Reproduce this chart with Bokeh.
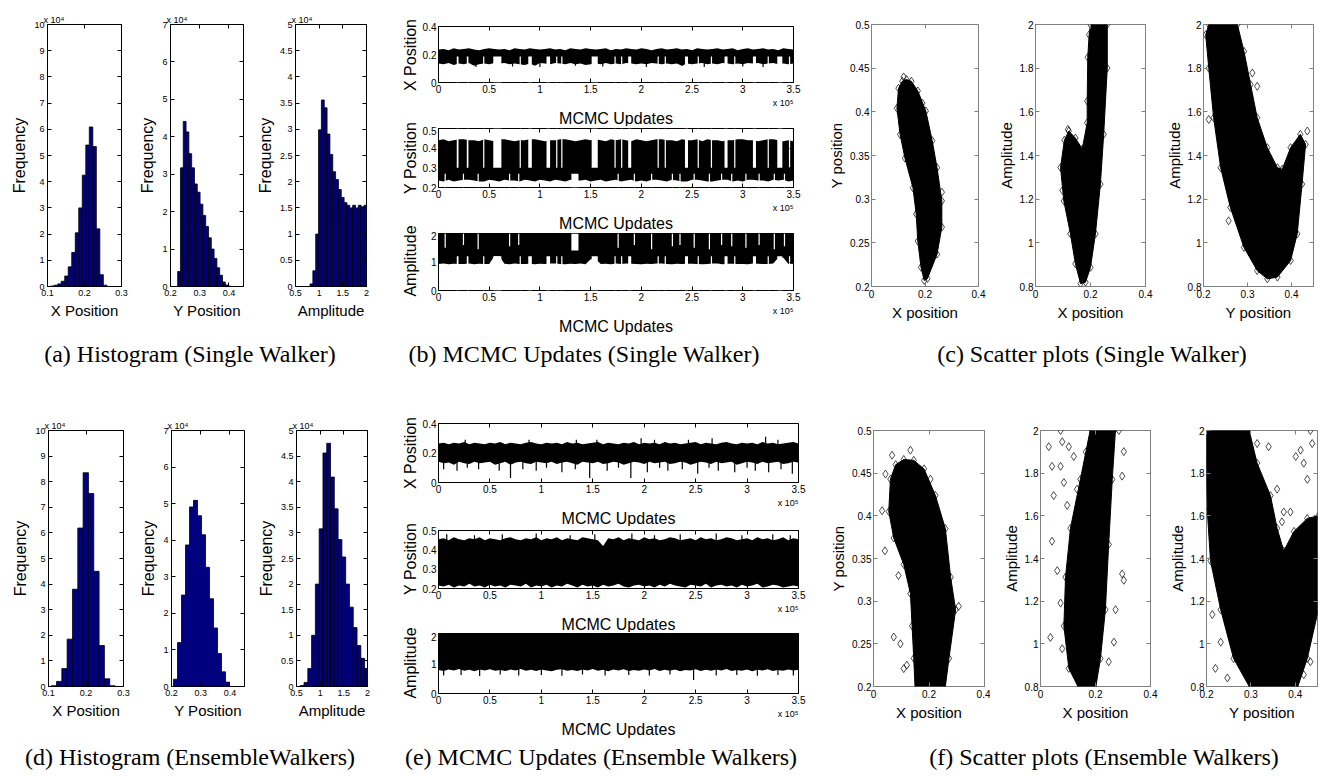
import numpy as np
from bokeh.plotting import figure
from bokeh.models import FixedTicker, LinearAxis, Div, CustomJSTickFormatter, Title
from bokeh.layouts import row, column
from bokeh.embed import file_html
from bokeh.resources import INLINE

SANS = "Liberation Sans"
SERIF = "Liberation Serif"
BAR = "#000080"
GRAY = "#808080"

# ======================= DATA =======================
# ---- (a) histograms, single walker (frequency in units of 1e4) ----
a_xpos_edges = [0.1085, 0.118, 0.1275, 0.137, 0.1465, 0.156, 0.1655, 0.175, 0.1845, 0.194,
                0.2035, 0.213, 0.2225, 0.232, 0.2415, 0.251, 0.2605]
a_xpos_counts = [0.02, 0.05, 0.1, 0.2, 0.4, 0.75, 1.3, 2.05, 3.0, 4.25, 5.4, 6.09, 5.34, 2.2, 0.45, 0.05]
a_ypos_edges = [0.2245, 0.2341, 0.2437, 0.2533, 0.2629, 0.2725, 0.2821, 0.2917, 0.3013, 0.3109,
                0.3205, 0.3301, 0.3397, 0.3493, 0.3589, 0.3685, 0.3781, 0.3877, 0.3973, 0.4069]
a_ypos_counts = [0.4, 3.17, 4.41, 4.13, 3.55, 3.17, 2.74, 2.52, 2.2, 1.9, 1.6, 1.3, 1.0, 0.75,
                 0.5, 0.3, 0.12, 0.04, 0.01]
a_amp_edges = [0.807, 0.867, 0.927, 0.987, 1.047, 1.107, 1.167, 1.227, 1.287, 1.347, 1.407,
               1.467, 1.527, 1.587, 1.647, 1.707, 1.767, 1.827, 1.887, 1.947, 2.007]
a_amp_counts = [0.05, 0.3, 1.0, 2.99, 3.56, 3.41, 2.91, 2.52, 2.19, 2.04, 1.85, 1.7, 1.6, 1.55,
                1.5, 1.55, 1.5, 1.55, 1.52, 1.55]

# ---- (d) histograms, ensemble walkers ----
d_xpos_edges = [0.1071, 0.1213, 0.1355, 0.1497, 0.1639, 0.1781, 0.1923, 0.2065, 0.2207, 0.2349,
                0.2491, 0.2633, 0.2775]
d_xpos_counts = [0.03, 0.2, 0.7, 1.85, 3.8, 6.19, 8.35, 7.54, 4.5, 1.6, 0.3, 0.03]
d_ypos_edges = [0.2069, 0.2206, 0.2343, 0.248, 0.2617, 0.2754, 0.2891, 0.3028, 0.3165, 0.3302,
                0.3439, 0.3576, 0.3713, 0.385, 0.3987]
d_ypos_counts = [0.2, 1.2, 2.5, 3.87, 4.91, 5.09, 4.67, 4.15, 3.26, 2.4, 1.6, 0.9, 0.4, 0.12]
d_amp_edges = [0.579, 0.659, 0.739, 0.819, 0.899, 0.979, 1.059, 1.139, 1.219, 1.299, 1.379,
               1.459, 1.539, 1.619, 1.699, 1.779, 1.859, 1.939, 2.019]
d_amp_counts = [0.02, 0.08, 0.35, 1.0, 2.0, 3.08, 4.56, 4.75, 4.09, 3.47, 2.87, 2.53, 2.0, 1.55,
                1.15, 0.8, 0.55, 0.35]

# ---- MCMC traces: envelope of the chain, sampled every 5000 updates (x in 1e5) ----
trace_x = [0.0, 0.05, 0.1, 0.15, 0.2, 0.25, 0.3, 0.35, 0.4, 0.45,
           0.5, 0.55, 0.6, 0.65, 0.7, 0.75, 0.8, 0.85, 0.9, 0.95,
           1.0, 1.05, 1.1, 1.15, 1.2, 1.25, 1.3, 1.35, 1.4, 1.45,
           1.5, 1.55, 1.6, 1.65, 1.7, 1.75, 1.8, 1.85, 1.9, 1.95,
           2.0, 2.05, 2.1, 2.15, 2.2, 2.25, 2.3, 2.35, 2.4, 2.45,
           2.5, 2.55, 2.6, 2.65, 2.7, 2.75, 2.8, 2.85, 2.9, 2.95,
           3.0, 3.05, 3.1, 3.15, 3.2, 3.25, 3.3, 3.35, 3.4, 3.45, 3.5]

# (b) single walker
b_x_lo = [0.135, 0.13, 0.14, 0.125, 0.135, 0.13, 0.14, 0.12, 0.13, 0.135,
          0.13, 0.14, 0.135, 0.14, 0.13, 0.135, 0.13, 0.125, 0.135, 0.12,
          0.14, 0.135, 0.13, 0.14, 0.135, 0.13, 0.14, 0.13, 0.135, 0.125,
          0.13, 0.135, 0.13, 0.14, 0.13, 0.135, 0.13, 0.14, 0.135, 0.13,
          0.135, 0.13, 0.14, 0.135, 0.13, 0.135, 0.13, 0.135, 0.12, 0.135,
          0.13, 0.135, 0.14, 0.13, 0.135, 0.13, 0.14, 0.135, 0.13, 0.135,
          0.13, 0.14, 0.135, 0.14, 0.13, 0.135, 0.14, 0.13, 0.135, 0.13, 0.135]
b_x_hi = [0.235, 0.24, 0.23, 0.245, 0.235, 0.24, 0.245, 0.235, 0.23, 0.24,
          0.245, 0.24, 0.235, 0.24, 0.23, 0.245, 0.24, 0.235, 0.245, 0.24,
          0.235, 0.24, 0.245, 0.235, 0.24, 0.23, 0.245, 0.24, 0.235, 0.245,
          0.24, 0.235, 0.24, 0.245, 0.23, 0.24, 0.235, 0.245, 0.24, 0.235,
          0.245, 0.24, 0.23, 0.24, 0.245, 0.235, 0.24, 0.245, 0.235, 0.24,
          0.23, 0.245, 0.24, 0.235, 0.24, 0.245, 0.235, 0.24, 0.245, 0.23,
          0.24, 0.245, 0.235, 0.24, 0.245, 0.235, 0.24, 0.23, 0.245, 0.24, 0.235]
b_x_spike_x = [0.37, 0.73, 1.00, 1.35, 1.62, 2.05, 2.40, 2.62, 3.00, 3.20]
b_x_spike_y = [0.11, 0.115, 0.11, 0.12, 0.115, 0.11, 0.12, 0.11, 0.115, 0.11]
b_y_lo = [0.235, 0.23, 0.24, 0.23, 0.235, 0.24, 0.24, 0.235, 0.23, 0.23,
          0.24, 0.235, 0.23, 0.24, 0.235, 0.235, 0.23, 0.24, 0.235, 0.23,
          0.24, 0.235, 0.23, 0.24, 0.235, 0.23, 0.24, 0.235, 0.235, 0.24,
          0.23, 0.235, 0.24, 0.23, 0.235, 0.24, 0.23, 0.235, 0.24, 0.23,
          0.235, 0.23, 0.24, 0.24, 0.235, 0.23, 0.24, 0.235, 0.23, 0.23,
          0.24, 0.24, 0.235, 0.23, 0.23, 0.235, 0.24, 0.24, 0.23, 0.235,
          0.23, 0.24, 0.24, 0.235, 0.235, 0.23, 0.24, 0.235, 0.24, 0.23, 0.235]
b_y_hi = [0.44, 0.445, 0.435, 0.44, 0.445, 0.445, 0.44, 0.44, 0.435, 0.445,
          0.44, 0.435, 0.445, 0.445, 0.44, 0.435, 0.44, 0.44, 0.445, 0.445,
          0.44, 0.435, 0.44, 0.44, 0.445, 0.445, 0.44, 0.435, 0.44, 0.445,
          0.44, 0.445, 0.44, 0.435, 0.445, 0.44, 0.445, 0.44, 0.435, 0.445,
          0.44, 0.435, 0.44, 0.445, 0.445, 0.44, 0.44, 0.435, 0.445, 0.44,
          0.44, 0.445, 0.435, 0.445, 0.44, 0.44, 0.435, 0.44, 0.44, 0.445,
          0.445, 0.44, 0.44, 0.435, 0.44, 0.445, 0.445, 0.44, 0.435, 0.44, 0.435]
b_a_lo = [0.93, 0.95, 0.92, 0.94, 0.93, 0.93, 0.95, 0.92, 0.94, 0.93,
          0.93, 1.2, 1.2, 0.94, 0.92, 0.95, 0.93, 0.93, 0.94, 0.92,
          0.94, 0.93, 0.95, 0.95, 0.93, 0.92, 0.94, 0.93, 0.95, 0.92,
          1.1, 1.1, 0.93, 0.94, 0.92, 0.95, 0.93, 0.95, 0.94, 0.93,
          0.92, 0.94, 0.93, 0.95, 0.95, 0.93, 0.92, 0.94, 0.93, 0.94,
          0.94, 0.93, 0.92, 0.93, 0.95, 0.95, 0.92, 0.94, 0.94, 0.93,
          0.93, 0.92, 0.95, 0.94, 0.93, 0.93, 0.95, 1.15, 1.15, 0.93, 0.94]
b_a_hi = [2.0, 2.0, 2.0, 2.0, 2.0, 2.0, 2.0, 2.0, 2.0, 2.0,
          2.0, 2.0, 2.0, 2.0, 2.0, 2.0, 2.0, 2.0, 2.0, 2.0,
          2.0, 2.0, 2.0, 2.0, 2.0, 2.0, 2.0, 2.0, 2.0, 2.0,
          2.0, 2.0, 2.0, 2.0, 2.0, 2.0, 2.0, 2.0, 2.0, 2.0,
          2.0, 2.0, 2.0, 2.0, 2.0, 2.0, 2.0, 2.0, 2.0, 2.0,
          2.0, 2.0, 2.0, 2.0, 2.0, 2.0, 2.0, 2.0, 2.0, 2.0,
          2.0, 2.0, 2.0, 2.0, 2.0, 2.0, 2.0, 2.0, 2.0, 2.0, 2.0]
# stretches where the single walker stays in the high-x / low-y / high-amplitude mode
b_hi_mode_x0 = [0.18, 0.279, 0.44, 0.54, 0.80, 0.885, 1.065, 1.16, 1.21, 1.51, 1.735, 1.80,
                1.87, 2.16, 2.23, 2.43, 2.555, 2.685, 2.82, 2.915, 3.10, 3.245, 3.34, 3.455]
b_hi_mode_x1 = [0.197, 0.295, 0.452, 0.62, 0.812, 0.92, 1.10, 1.172, 1.222, 1.57, 1.747, 1.812,
                1.90, 2.172, 2.242, 2.46, 2.567, 2.697, 2.85, 2.927, 3.13, 3.257, 3.39, 3.467]
b_hi_mode_xmin = 0.185   # lowest x position reached in that mode
b_hi_mode_ymax = 0.30    # highest y position reached in that mode
b_hi_mode_amin = 1.2     # lowest amplitude reached in that mode
# stretches where the single walker stays in the low-amplitude / high-y mode
b_lo_mode_x0 = [0.06, 0.24, 0.385, 0.695, 0.785, 1.31, 1.765, 1.925, 2.095, 2.30, 2.375, 2.515,
                2.665, 2.785, 2.885, 3.025, 3.155, 3.305, 3.405]
b_lo_mode_x1 = [0.072, 0.252, 0.397, 0.707, 0.797, 1.38, 1.777, 1.937, 2.107, 2.312, 2.387,
                2.527, 2.677, 2.797, 2.897, 3.037, 3.167, 3.317, 3.417]
b_lo_mode_amax = [1.5, 1.6, 1.45, 1.55, 1.6, 1.4, 1.5, 1.6, 1.45, 1.55, 1.6, 1.5, 1.45, 1.6,
                  1.55, 1.5, 1.6, 1.45, 1.55]
b_lo_mode_ymin = 0.27

# (e) ensemble walkers
e_x_lo = [0.14, 0.13, 0.135, 0.12, 0.14, 0.13, 0.125, 0.14, 0.13, 0.135,
          0.14, 0.12, 0.13, 0.14, 0.12, 0.135, 0.14, 0.13, 0.125, 0.14,
          0.135, 0.13, 0.14, 0.125, 0.135, 0.14, 0.13, 0.12, 0.14, 0.135,
          0.13, 0.14, 0.125, 0.13, 0.14, 0.135, 0.12, 0.13, 0.14, 0.135,
          0.125, 0.14, 0.13, 0.135, 0.14, 0.125, 0.13, 0.14, 0.135, 0.12,
          0.13, 0.14, 0.135, 0.125, 0.14, 0.13, 0.135, 0.14, 0.12, 0.13,
          0.14, 0.135, 0.125, 0.14, 0.13, 0.135, 0.14, 0.125, 0.13, 0.14, 0.135]
e_x_hi = [0.265, 0.27, 0.26, 0.27, 0.265, 0.275, 0.26, 0.27, 0.265, 0.26,
          0.27, 0.265, 0.275, 0.26, 0.27, 0.265, 0.26, 0.27, 0.275, 0.265,
          0.26, 0.27, 0.265, 0.27, 0.26, 0.275, 0.265, 0.27, 0.26, 0.265,
          0.27, 0.275, 0.26, 0.27, 0.265, 0.26, 0.27, 0.265, 0.275, 0.26,
          0.27, 0.265, 0.27, 0.26, 0.275, 0.265, 0.27, 0.26, 0.265, 0.27,
          0.275, 0.26, 0.27, 0.265, 0.26, 0.27, 0.275, 0.265, 0.26, 0.27,
          0.265, 0.27, 0.26, 0.275, 0.265, 0.27, 0.26, 0.265, 0.27, 0.275, 0.265]
e_x_dn_x = [0.05, 0.18, 0.28, 0.39, 0.59, 0.70, 0.82, 0.95, 1.05, 1.20, 1.33, 1.47, 1.64, 1.75,
            1.87, 2.03, 2.15, 2.23, 2.37, 2.52, 2.63, 2.72, 2.88, 3.00, 3.08, 3.21, 3.33, 3.44]
e_x_dn_y = [0.09, 0.08, 0.10, 0.09, 0.08, 0.03, 0.09, 0.08, 0.10, 0.07, 0.09, 0.03, 0.08, 0.10,
            0.03, 0.07, 0.10, 0.08, 0.09, 0.06, 0.10, 0.08, 0.07, 0.10, 0.08, 0.07, 0.09, 0.06]
e_x_up_x = [0.26, 0.88, 1.34, 1.54, 1.97, 2.10, 2.43, 2.66, 3.18, 3.30]
e_x_up_y = [0.29, 0.29, 0.29, 0.29, 0.30, 0.29, 0.29, 0.30, 0.31, 0.29]
e_y_lo = [0.215, 0.21, 0.22, 0.205, 0.215, 0.21, 0.225, 0.21, 0.215, 0.205,
          0.22, 0.21, 0.215, 0.205, 0.22, 0.215, 0.21, 0.225, 0.205, 0.215,
          0.21, 0.22, 0.205, 0.215, 0.21, 0.225, 0.215, 0.205, 0.22, 0.21,
          0.215, 0.205, 0.22, 0.21, 0.215, 0.225, 0.21, 0.205, 0.215, 0.22,
          0.21, 0.215, 0.205, 0.22, 0.21, 0.225, 0.215, 0.21, 0.205, 0.22,
          0.215, 0.21, 0.225, 0.205, 0.215, 0.22, 0.21, 0.215, 0.205, 0.22,
          0.21, 0.215, 0.225, 0.205, 0.21, 0.22, 0.215, 0.205, 0.21, 0.215, 0.21]
e_y_hi = [0.455, 0.46, 0.45, 0.465, 0.455, 0.45, 0.46, 0.455, 0.465, 0.45,
          0.46, 0.455, 0.45, 0.46, 0.465, 0.455, 0.45, 0.46, 0.455, 0.465,
          0.45, 0.46, 0.455, 0.465, 0.45, 0.46, 0.455, 0.45, 0.465, 0.46,
          0.455, 0.45, 0.42, 0.46, 0.455, 0.465, 0.45, 0.46, 0.455, 0.45,
          0.465, 0.455, 0.46, 0.45, 0.455, 0.465, 0.46, 0.45, 0.455, 0.46,
          0.45, 0.465, 0.455, 0.46, 0.45, 0.455, 0.465, 0.46, 0.45, 0.455,
          0.46, 0.45, 0.465, 0.455, 0.46, 0.45, 0.455, 0.465, 0.45, 0.46, 0.455]
e_y_up_x = [0.08, 0.35, 0.62, 0.95, 1.28, 1.52, 1.88, 2.10, 2.35, 2.70, 2.95, 3.25, 3.42]
e_y_up_y = [0.48, 0.475, 0.48, 0.485, 0.475, 0.48, 0.485, 0.475, 0.48, 0.485, 0.475, 0.48, 0.475]
e_a_lo = [0.78, 0.75, 0.8, 0.77, 0.82, 0.76, 0.79, 0.74, 0.8, 0.77,
          0.81, 0.76, 0.78, 0.75, 0.8, 0.77, 0.82, 0.76, 0.79, 0.75,
          0.8, 0.77, 0.74, 0.79, 0.81, 0.76, 0.78, 0.75, 0.8, 0.77,
          0.82, 0.76, 0.79, 0.74, 0.8, 0.77, 0.81, 0.75, 0.78, 0.76,
          0.8, 0.77, 0.82, 0.75, 0.79, 0.76, 0.8, 0.74, 0.78, 0.77,
          0.81, 0.75, 0.79, 0.76, 0.8, 0.77, 0.82, 0.75, 0.78, 0.76,
          0.8, 0.74, 0.79, 0.77, 0.81, 0.75, 0.78, 0.76, 0.8, 0.77, 0.79]
e_a_hi = b_a_hi
e_a_dn_x = [0.05, 0.22, 0.40, 0.60, 0.78, 1.00, 1.20, 1.40, 1.62, 1.85, 2.05, 2.25, 2.48, 2.70,
            2.90, 3.10, 3.30, 3.45]
e_a_dn_y = [0.60, 0.62, 0.58, 0.63, 0.60, 0.62, 0.59, 0.63, 0.60, 0.62, 0.60, 0.63, 0.45, 0.60,
            0.62, 0.59, 0.62, 0.60]

# ---- scatter clouds: outline of the dense region + isolated samples ----
c1_x = [0.131, 0.149, 0.173, 0.203, 0.227, 0.245, 0.263, 0.263, 0.245, 0.209, 0.197, 0.185,
        0.173, 0.167, 0.155, 0.125, 0.107, 0.095, 0.101, 0.115]
c1_y = [0.437, 0.435, 0.424, 0.401, 0.367, 0.336, 0.298, 0.268, 0.237, 0.209, 0.207, 0.222,
        0.252, 0.283, 0.313, 0.347, 0.374, 0.404, 0.427, 0.435]
c1_out_x = [0.263, 0.12, 0.19]
c1_out_y = [0.308, 0.44, 0.41]
c2_x = [0.2, 0.261, 0.261, 0.248, 0.236, 0.218, 0.2, 0.182, 0.164, 0.145, 0.127, 0.103, 0.091,
        0.105, 0.121, 0.145, 0.17, 0.188, 0.188, 0.19, 0.195]
c2_y = [2.0, 2.0, 1.80, 1.497, 1.269, 1.041, 0.888, 0.82, 0.813, 0.904, 1.042, 1.192, 1.345,
        1.47, 1.512, 1.48, 1.43, 1.55, 1.649, 1.85, 1.953]
c2_out_x = [0.248, 0.118, 0.098]
c2_out_y = [1.778, 1.52, 1.24]
c3_x = [0.212, 0.277, 0.292, 0.307, 0.322, 0.345, 0.368, 0.379, 0.398, 0.420, 0.432, 0.424,
        0.413, 0.398, 0.368, 0.345, 0.322, 0.292, 0.261, 0.239, 0.223, 0.212, 0.205]
c3_y = [2.0, 2.0, 1.877, 1.725, 1.573, 1.436, 1.344, 1.337, 1.436, 1.497, 1.451, 1.269, 1.041,
        0.919, 0.843, 0.835, 0.873, 0.979, 1.162, 1.344, 1.573, 1.80, 1.953]
c3_out_x = [0.322, 0.311, 0.436, 0.212, 0.257, 0.345]
c3_out_y = [1.717, 1.778, 1.512, 1.565, 1.101, 1.39]

f1_x = [0.109, 0.145, 0.182, 0.223, 0.259, 0.278, 0.296, 0.272, 0.255, 0.151, 0.145, 0.139,
        0.133, 0.109, 0.073, 0.055, 0.061, 0.08]
f1_y = [0.466, 0.465, 0.455, 0.424, 0.385, 0.328, 0.290, 0.233, 0.19, 0.19, 0.233, 0.271,
        0.309, 0.343, 0.374, 0.405, 0.443, 0.46]
f1_out_x = [0.133, 0.067, 0.043, 0.041, 0.073, 0.097, 0.109, 0.031, 0.205, 0.307, 0.09, 0.12]
f1_out_y = [0.477, 0.471, 0.449, 0.359, 0.258, 0.250, 0.221, 0.406, 0.443, 0.294, 0.33, 0.225]
f2_x = [0.182, 0.273, 0.261, 0.248, 0.236, 0.218, 0.2, 0.14, 0.103, 0.085, 0.091, 0.109,
        0.145, 0.165]
f2_y = [2.01, 2.01, 1.771, 1.466, 1.16, 0.931, 0.79, 0.79, 0.885, 1.084, 1.313, 1.542, 1.771, 1.9]
f2_out_x = [0.030, 0.073, 0.079, 0.103, 0.042, 0.073, 0.121, 0.085, 0.048, 0.097, 0.042, 0.061,
            0.073, 0.036, 0.079, 0.097, 0.121, 0.133, 0.303, 0.297, 0.297, 0.303, 0.267, 0.273,
            0.248, 0.285]
f2_out_y = [1.924, 2.0, 1.947, 1.924, 1.832, 1.832, 1.878, 1.756, 1.695, 1.649, 1.481, 1.343,
            1.191, 1.030, 0.977, 1.099, 1.466, 1.725, 1.901, 1.786, 1.328, 1.298, 1.008, 1.16,
            0.916, 2.0]
f3_x = [0.2, 0.295, 0.314, 0.344, 0.359, 0.374, 0.397, 0.427, 0.452, 0.452, 0.427, 0.404,
        0.299, 0.261, 0.232, 0.209, 0.202, 0.199]
f3_y = [2.01, 2.01, 1.847, 1.695, 1.542, 1.435, 1.527, 1.588, 1.6, 1.16, 0.931, 0.79, 0.79,
        0.931, 1.16, 1.389, 1.618, 1.847]
f3_out_x = [0.434, 0.412, 0.401, 0.427, 0.389, 0.359, 0.340, 0.314, 0.374, 0.370, 0.419, 0.438,
            0.213, 0.220, 0.247, 0.232, 0.434, 0.419]
f3_out_y = [2.0, 1.908, 1.878, 1.771, 1.618, 1.725, 1.924, 1.939, 1.618, 1.572, 1.847, 1.939,
            1.137, 0.885, 0.840, 1.008, 0.916, 0.855]

# ---- tick positions ----
upd_ticks = [0, 0.5, 1, 1.5, 2, 2.5, 3, 3.5]
ticks10 = [0, 1, 2, 3, 4, 5, 6, 7, 8, 9, 10]
ticks7 = [0, 1, 2, 3, 4, 5, 6, 7]
ticks5 = [0, 0.5, 1, 1.5, 2, 2.5, 3, 3.5, 4, 4.5, 5]
yp_ticks = [0.2, 0.25, 0.3, 0.35, 0.4, 0.45, 0.5]
amp_ticks = [0.8, 1, 1.2, 1.4, 1.6, 1.8, 2]


# ======================= HELPERS =======================
def style_axis(ax, ticks, color, fs, hidden=False):
    ax.ticker = FixedTicker(ticks=ticks)
    if hidden:
        ax.formatter = CustomJSTickFormatter(code="return '';")
    else:
        ax.formatter = CustomJSTickFormatter(code="return String(Math.round(tick*10000)/10000);")
    ax.major_tick_in = 4
    ax.major_tick_out = 0
    ax.minor_tick_line_color = None
    ax.axis_line_color = None
    ax.major_tick_line_color = color
    ax.major_label_text_font = SANS
    ax.major_label_text_color = "black"
    ax.major_label_text_font_size = "1px" if hidden else fs
    ax.major_label_standoff = 0 if hidden else 3
    ax.axis_label_text_font = SANS
    ax.axis_label_text_font_style = "normal"
    ax.axis_label_text_color = "black"
    ax.axis_label_standoff = 3


def base_fig(w, h, lb, rb, tb, bb, xr, yr, xt, yt, color="black", fs="10px", lw=1.0):
    p = figure(width=w, height=h, x_range=xr, y_range=yr, output_backend="svg",
               toolbar_location=None, min_border_left=lb, min_border_right=rb,
               min_border_top=tb, min_border_bottom=bb)
    p.grid.visible = False
    p.outline_line_color = color
    p.outline_line_width = lw
    p.outline_line_alpha = 1.0
    p.background_fill_color = "white"
    p.border_fill_color = "white"
    style_axis(p.below[0], xt, color, fs)
    style_axis(p.left[0], yt, color, fs)
    top = LinearAxis()
    style_axis(top, xt, color, fs, hidden=True)
    p.add_layout(top, "above")
    rgt = LinearAxis()
    style_axis(rgt, yt, color, fs, hidden=True)
    p.add_layout(rgt, "right")
    return p


def small_title(text, align, size, offset=0):
    return Title(text=text, align=align, text_font=SANS, text_font_size=size,
                 text_font_style="normal", text_color="black", standoff=0, offset=offset)


def hist_fig(w, h, lb, rb, tb, bb, xr, yr, xt, yt, edges, counts, xlabel):
    p = base_fig(w, h, lb, rb, tb, bb, xr, yr, xt, yt, fs="9px")
    p.quad(left=edges[:-1], right=edges[1:], bottom=0, top=counts,
           fill_color=BAR, line_color="black", line_width=0.8)
    p.below[0].axis_label = xlabel
    p.below[0].axis_label_text_font_size = "15px"
    p.left[0].axis_label = "Frequency"
    p.left[0].axis_label_text_font_size = "16px"
    p.add_layout(small_title("x 10\u2074", "left", "9px", -4), "above")
    return p


def trace_fig(w, h, lb, rb, tb, bb, yr, yt, lo, hi, spikes):
    p = base_fig(w, h, lb, rb, tb, bb, (0, 3.5), yr, upd_ticks, yt, fs="10px")
    p.varea(x=trace_x, y1=lo, y2=hi, fill_color="black")
    mid = (np.array(lo) + np.array(hi)) / 2.0
    for sx, sy in spikes:
        base = np.interp(sx, trace_x, mid)
        p.segment(x0=sx, y0=base, x1=sx, y1=sy, line_color="black", line_width=1.2)
    p.below[0].major_label_standoff = 2
    p.left[0].major_label_standoff = 2
    p.add_layout(small_title("x 10\u2075", "right", "9px"), "below")
    p.add_layout(small_title("MCMC Updates", "center", "16px"), "below")
    return p


def ylabel_div(h, items):
    # vertical axis titles of the stacked trace panels (kept un-clipped in a side strip)
    spans = "".join(
        '<span style="position:absolute;left:16px;top:%.1fpx;'
        'transform:translate(-50%%,-50%%) rotate(-90deg);white-space:nowrap;'
        'font-family:\'Liberation Sans\';font-size:16px;line-height:18px;color:black">%s</span>'
        % (cy, txt) for cy, txt in items)
    html = '<div style="position:relative;width:24px;height:%dpx">%s</div>' % (h, spans)
    return Div(text=html, width=24, height=h, margin=(0, 0, 0, 0))


def white_gaps(p, x0, x1, bottom, top):
    p.quad(left=x0, right=x1, bottom=bottom, top=top, fill_color="white", line_color=None)


def scatter_fig(w, h, lb, rb, tb, bb, xr, yr, xt, yt, px, py, ox, oy, xlabel, ylabel):
    p = base_fig(w, h, lb, rb, tb, bb, xr, yr, xt, yt, color=GRAY, fs="10px")
    p.patch(px, py, fill_color="black", line_color="black", line_width=1)
    p.scatter(px, py, marker="diamond", size=8, fill_color=None, line_color="black",
              line_width=0.7)
    p.scatter(ox, oy, marker="diamond", size=8, fill_color=None, line_color="black",
              line_width=0.7)
    p.below[0].axis_label = xlabel
    p.below[0].axis_label_text_font_size = "15px"
    p.left[0].axis_label = ylabel
    p.left[0].axis_label_text_font_size = "15px"
    p.left[0].axis_label_standoff = 2
    p.left[0].major_label_standoff = 2
    return p


def caption_div(h, items, top):
    spans = "".join(
        '<span style="position:absolute;left:%dpx;top:%dpx;transform:translateX(-50%%);'
        'white-space:nowrap;font-family:\'Liberation Serif\';font-size:24px;line-height:28px;'
        'color:black">%s</span>' % (cx, top, txt) for cx, txt in items)
    html = '<div style="position:relative;width:1322px;height:%dpx">%s</div>' % (h, spans)
    return Div(text=html, width=1322, height=h, margin=(0, 0, 0, 0))


# ======================= ROW 1 =======================
H = 338
a1 = hist_fig(130, H, 47, 9, 24, 46, (0.1, 0.3), (0, 10), [0.1, 0.2, 0.3], ticks10,
              a_xpos_edges, a_xpos_counts, "X Position")
a2 = hist_fig(123, H, 40, 10, 24, 46, (0.2, 0.45), (0, 7), [0.2, 0.3, 0.4], ticks7,
              a_ypos_edges, a_ypos_counts, "Y Position")
a3 = hist_fig(142, H, 40, 29, 24, 46, (0.5, 2), (0, 5), [0.5, 1, 1.5, 2], ticks5,
              a_amp_edges, a_amp_counts, "Amplitude")

b1 = trace_fig(406, 126, 18, 32, 26, 44, (0, 0.4), [0, 0.2, 0.4], b_x_lo, b_x_hi,
               list(zip(b_x_spike_x, b_x_spike_y)))
white_gaps(b1, b_hi_mode_x0, b_hi_mode_x1, 0.0, b_hi_mode_xmin)
b2 = trace_fig(406, 105, 18, 32, 2, 44, (0.2, 0.5), [0.2, 0.3, 0.4, 0.5], b_y_lo, b_y_hi, [])
white_gaps(b2, b_hi_mode_x0, b_hi_mode_x1, b_hi_mode_ymax, 0.5)
white_gaps(b2, b_lo_mode_x0, b_lo_mode_x1, 0.2, b_lo_mode_ymin)
b3 = trace_fig(406, 107, 18, 32, 2, 48, (0, 2), [0, 1, 2], b_a_lo, b_a_hi, [])
white_gaps(b3, b_hi_mode_x0, b_hi_mode_x1, 0.0, b_hi_mode_amin)
white_gaps(b3, b_lo_mode_x0, b_lo_mode_x1, b_lo_mode_amax, 2.0)
blab = ylabel_div(H, [(55, "X Position"), (157.5, "Y Position"), (261, "Amplitude")])

c1 = scatter_fig(165, H, 42, 12, 23, 52, (0, 0.4), (0.2, 0.5), [0, 0.2, 0.4], yp_ticks,
                 c1_x, c1_y, c1_out_x, c1_out_y, "X position", "Y position")
c2 = scatter_fig(168, H, 45, 13, 23, 52, (0, 0.4), (0.8, 2), [0, 0.2, 0.4], amp_ticks,
                 c2_x, c2_y, c2_out_x, c2_out_y, "X position", "Amplitude")
c3 = scatter_fig(164, H, 45, 9, 23, 52, (0.2, 0.45), (0.8, 2), [0.2, 0.3, 0.4], amp_ticks,
                 c3_x, c3_y, c3_out_x, c3_out_y, "Y position", "Amplitude")
row1 = row(a1, a2, a3, blab, column(b1, b2, b3), c1, c2, c3)

cap1 = caption_div(40, [(190, "(a) Histogram (Single Walker)"),
                        (584, "(b) MCMC Updates (Single Walker)"),
                        (1092, "(c) Scatter plots (Single Walker)")], 2)

# ======================= ROW 2 =======================
H2 = 362
d1 = hist_fig(131, H2, 48, 8, 48, 54, (0.1, 0.3), (0, 10), [0.1, 0.2, 0.3], ticks10,
              d_xpos_edges, d_xpos_counts, "X Position")
d2 = hist_fig(123, H2, 40, 10, 48, 54, (0.2, 0.45), (0, 7), [0.2, 0.3, 0.4], ticks7,
              d_ypos_edges, d_ypos_counts, "Y Position")
d3 = hist_fig(141, H2, 40, 28, 48, 54, (0.5, 2), (0, 5), [0.5, 1, 1.5, 2], ticks5,
              d_amp_edges, d_amp_counts, "Amplitude")
e1 = trace_fig(406, 148, 17, 27, 45, 44, (0, 0.4), [0, 0.2, 0.4], e_x_lo, e_x_hi,
               list(zip(e_x_dn_x, e_x_dn_y)) + list(zip(e_x_up_x, e_x_up_y)))
e2 = trace_fig(406, 106, 17, 27, 4, 44, (0.2, 0.5), [0.2, 0.3, 0.4, 0.5], e_y_lo, e_y_hi,
               list(zip(e_y_up_x, e_y_up_y)))
e3 = trace_fig(406, 108, 17, 27, 1, 47, (0, 2), [0, 1, 2], e_a_lo, e_a_hi,
               list(zip(e_a_dn_x, e_a_dn_y)))
elab = ylabel_div(H2, [(74.5, "X Position"), (181, "Y Position"), (285, "Amplitude")])
f1 = scatter_fig(165, H2, 48, 6, 52, 48, (0, 0.4), (0.2, 0.5), [0, 0.2, 0.4], yp_ticks,
                 f1_x, f1_y, f1_out_x, f1_out_y, "X position", "Y position")
f2 = scatter_fig(170, H2, 50, 10, 52, 48, (0, 0.4), (0.8, 2), [0, 0.2, 0.4], amp_ticks,
                 f2_x, f2_y, f2_out_x, f2_out_y, "X position", "Amplitude")
f3 = scatter_fig(162, H2, 46, 5, 52, 48, (0.2, 0.45), (0.8, 2), [0.2, 0.3, 0.4], amp_ticks,
                 f3_x, f3_y, f3_out_x, f3_out_y, "Y position", "Amplitude")
row2 = row(d1, d2, d3, elab, column(e1, e2, e3), f1, f2, f3)

cap2 = caption_div(36, [(190, "(d) Histogram (EnsembleWalkers)"),
                        (601, "(e) MCMC Updates (Ensemble Walkers)"),
                        (1104, "(f) Scatter plots (Ensemble Walkers)")], 3)

layout = column(row1, cap1, row2, cap2)

with open("out.html", "w") as fh:
    fh.write(file_html(layout, INLINE, "MCMC figure"))
